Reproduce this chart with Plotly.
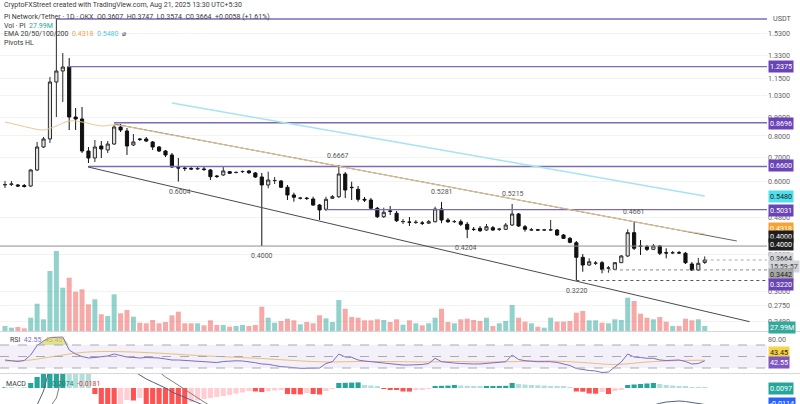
import math
import plotly.graph_objects as go

W, H = 800, 404
PR = 767  # right edge of plot area in px

idx = list(range(110))
opens = [.5876,.5894,.5876,.5857,.5838,.6458,.7464,.7850,1.1239,1.2044,
         1.235,.9015,.8903,.7278,.6964,.7511,.7324,.7606,.8465,.8255,
         .7558,.7850,.7850,.7703,.7464,.7278,.7097,.6560,.6540,.6519,
         .6499,.6499,.6458,.6218,.6258,.6390,.6357,.6390,.6418,.6337,
         .6179,.5876,.6037,.6025,.5791,.5517,.5403,.5410,.5379,.5180,
         .5042,.5403,.5458,.6297,.5791,.5718,.5369,.5346,.5074,.4812,
         .4988,.4917,.4663,.4654,.4640,.4625,.4620,.4663,.5051,.4713,
         .4663,.4663,.4587,.4445,.4473,.4425,.4490,.4445,.4445,.4567,
         .4895,.4518,.4425,.4430,.4425,.4425,.4425,.4288,.4199,.4085,
         .3726,.3550,.3588,.3602,.3480,.3455,.3602,.3757,.4352,.4001,
         .3983,.3918,.4001,.3836,.3830,.3836,.3822,.3572,.3440,.3607]
highs = [.6025,.6025,.5913,.5913,.6499,.7703,.7949,1.160,1.671,1.349,
         1.307,.9541,.9601,.7464,.7800,.7751,.7751,.8573,.8627,.8412,
         .8100,.7899,.7949,.7751,.7511,.7324,.7187,.6964,.6622,.6622,
         .6622,.6581,.6499,.6258,.6622,.6418,.6398,.6438,.6458,.6377,
         .6337,.6390,.6179,.6063,.5876,.5598,.5448,.5448,.5458,.5213,
         .5458,.5517,.6667,.6377,.5998,.5838,.5448,.5413,.5115,.5093,
         .5148,.4988,.4744,.4803,.4713,.4684,.4713,.5125,.5281,.4773,
         .4713,.4730,.4654,.4510,.4538,.4596,.4538,.4482,.4625,.5215,
         .4926,.4567,.4482,.4454,.4454,.4713,.4454,.4315,.4235,.4129,
         .3804,.3702,.3640,.3640,.3527,.3617,.3780,.4445,.4661,.4155,
         .4026,.4051,.4026,.3944,.3878,.3878,.3853,.3617,.3710,.3747]
lows = [.5765,.5838,.5802,.5783,.5802,.6418,.7417,.7654,.9015,.9909,
        .8307,.8307,.7187,.6748,.6791,.6964,.7187,.7558,.8203,.7097,
        .7511,.7751,.7703,.7324,.7232,.7008,.6540,.6004,.6418,.6458,
        .6458,.6418,.6063,.6140,.6218,.6297,.6317,.6337,.6297,.6140,
        .4000,.5754,.5913,.5765,.5346,.5290,.5362,.5346,.5148,.4713,
        .4988,.5379,.5413,.5413,.5346,.5290,.5279,.5051,.4773,.4773,
        .4865,.4654,.4596,.4538,.4596,.4567,.4596,.4640,.4620,.4625,
        .4625,.4538,.4204,.4398,.4370,.4398,.4398,.4398,.4425,.4538,
        .4510,.4379,.4398,.4398,.4398,.4398,.4261,.4182,.4069,.3220,
        .3403,.3527,.3550,.3369,.3382,.3440,.3595,.3733,.3902,.3780,
        .3878,.3902,.3780,.3702,.3804,.3804,.3572,.3418,.3418,.3574]
closes = [.5894,.5913,.5838,.5820,.6458,.7464,.7850,1.1239,1.2044,1.235,
          .9015,.8903,.7278,.6964,.7464,.7370,.7606,.8465,.8307,.7511,
          .7703,.7826,.7751,.7464,.7278,.7097,.6581,.6540,.6519,.6499,
          .6519,.6479,.6191,.6199,.6418,.6325,.6360,.6398,.6349,.6179,
          .5876,.6063,.6045,.5791,.5517,.5438,.5410,.5396,.5180,.5020,
          .5369,.5458,.6297,.5693,.5780,.5369,.5346,.5074,.4812,.4948,
          .4980,.4692,.4669,.4645,.4645,.4620,.4663,.5051,.4713,.4663,
          .4669,.4587,.4445,.4440,.4406,.4518,.4425,.4450,.4567,.4895,
          .4538,.4445,.4430,.4425,.4428,.4430,.4288,.4199,.4095,.3726,
          .3550,.3624,.3595,.3455,.3484,.3602,.3757,.4352,.3944,.3990,
          .3918,.4001,.3822,.3830,.3836,.3830,.3602,.3440,.3588,.3664]
volume_m = [28,18.5,22.4,15.1,74.5,152.9,65.5,336,448,242.5,
            298.5,220.1,233.5,149.5,177.5,93.5,84,205.5,99.1,117.6,
            80.1,46.5,43.1,61.6,43.1,50.4,87.9,108.1,43.1,43.1,
            43.1,31.9,59.9,33.6,33.6,24.1,28,33.6,28,33.6,
            136.1,74.5,46.5,56,68.9,59.9,37.5,50.4,43.1,87.9,
            71.1,50.4,173.6,124.9,78.4,74.5,59.9,59.9,65.5,61.6,
            50.4,65.5,35.3,59.9,43.1,31.9,43.1,74.5,124.9,50.4,
            43.1,65.5,68.9,61.6,56,74.5,28,43.1,56,145.6,
            74.5,52.1,43.1,24.1,18.5,74.5,52.1,52.1,56,102.5,
            112,59.9,59.9,46.5,43.1,65.5,61.6,186.5,168,96.9,
            74.5,65.5,78.4,52.1,28,28,68.9,59.9,65.5,27.99]
rsi = [43.9,43.0,41.3,43.0,52.6,69.1,77.0,83.0,83.9,83.9,
       61.3,54.3,50.0,47.4,48.3,49.1,50.9,54.3,51.7,49.1,
       48.3,47.4,48.3,48.3,47.4,45.7,43.9,43.9,43.0,42.2,
       41.3,40.4,39.2,39.5,41.3,42.2,42.5,42.2,41.3,39.2,
       37.0,36.4,34.4,32.3,31.7,30.0,29.5,29.5,29.5,30.0,
       37.8,41.0,54.3,49.1,48.6,43.9,42.2,41.0,38.7,37.8,
       37.0,35.2,35.2,35.2,35.2,36.1,37.8,46.9,41.0,39.2,
       38.7,37.8,37.0,37.0,37.0,37.8,38.2,39.6,41.0,52.6,
       44.8,42.7,41.3,41.0,41.0,41.0,39.6,37.0,34.4,29.1,
       27.0,25.7,24.8,22.2,23.0,32.3,40.4,54.3,49.1,48.3,
       46.9,46.9,43.9,43.0,43.4,43.9,41.3,37.0,37.8,42.55]
rsi_ma_x = [0,4,7,10,12,15,20,25,30,35,40,45,50,55,60,65,70,75,80,85,90,95,100,105,109]
rsi_ma = [42.2,43.9,49.1,54.3,57.0,58.7,57.8,55.2,51.7,49.1,46.5,43.0,40.4,41.3,
          41.3,40.4,41.3,40.4,41.3,42.2,39.6,36.1,40.4,43.0,43.45]
macd_hist = [0.3,0.3,0.2,0.2,5,11,20,35,48,55,
             50,42,32,18,-6,-16.5,-17,-17.5,-16.8,-12,
             -12.5,-10,-17,-17.5,-18,-18.5,-19,-19.5,-20,-14,
             -12.5,-11,-10,-9,-8,-7,-5.5,-4.5,-3,-3.5,
             -4,-3,-2.5,-2,-6,-6.2,-6.4,-5,-6,-6.5,
             -3,-1,5,5.2,5.4,5.6,3,2.5,2,-1,
             -1.2,-1.4,-3.5,-3.6,-2,-1.5,-1,2,2.2,2.4,
             3,2.5,2.2,2,1.8,1.9,2,2.1,2.2,5,
             4,3.5,3,2.7,2.4,2,1.7,1.3,1,-3.5,
             -3.7,-5.5,-5.7,-4,-6,-3,-2,3,3.5,4,
             4.5,5,4,3,2.5,2,1.2,0.8,0.5,0.4]
macd_line = [-22,-22.5,-23,-23,-21,-17,-3,20,45,65,
             72,72,68,60,50,42,36,30,26,22,
             17,13,9,6,3,0,-4,-7,-10,-13,
             -16,-19,-22,-25,-27,-28,-29,-30,-31,-33,
             -36,-37,-38,-40,-43,-46,-48,-49,-50,-52,
             -50,-47,-40,-38,-37,-36,-36,-37,-38,-39,
             -40,-40,-41,-42,-42,-42,-41,-36,-36,-36,
             -36,-37,-37,-37,-37,-36,-34,-33,-32,-31,
             -30,-30,-29,-28,-28,-28,-29,-30,-31,-33,
             -37,-40,-42,-43,-44,-41,-36,-31,-27,-23,
             -19,-17,-15.3,-14,-13.3,-13,-13.5,-14.3,-15.3,-16.5]
macd_signal = [-20,-20.5,-21,-21.5,-21.5,-21,-20,-19,-10,15,
               28,38,45,48,49,48,46,43,40,38,
               36,31,26,21,16,11,7,3,-1.5,-5.6,
               -9.8,-13.9,-18,-20,-22,-24,-26,-27,-28,-30,
               -31,-33,-34,-36,-38,-40,-42,-44,-46,-47,
               -47,-46,-45,-44,-43,-42,-41,-41,-41,-41,
               -41,-41,-41,-41,-41,-41,-40,-39,-39,-38,
               -38,-38,-38,-38,-37,-36,-35,-34,-33,-33,
               -32,-31,-31,-30,-30,-30,-30,-30,-31,-32,
               -34,-36,-38,-40,-40,-40,-38,-36,-33,-31,
               -28,-26,-24,-22,-20,-19,-18,-17.5,-17.2,-17]
ema50_x = [0,2,4,6,8,10,12,15,17,25,35,45,55,65,75,85,95,105,109]
ema50 = [.8736,.8573,.8412,.8307,.8519,.8791,.8736,.8519,.8573,.8104,.7523,.6973,
         .6462,.5987,.5551,.5150,.4770,.4423,.4318]
ema200_x = [26,40,60,80,100,109]
ema200 = [.9846,.8918,.7751,.6729,.5838,.5480]
price_ticks = [1.53,1.33,1.15,1.03,0.90,0.80,0.70,0.60,0.48,0.38,0.30,0.275,0.249]
price_tick_text = ["1.5300","1.3300","1.1500","1.0300","0.9000","0.8000","0.7000","0.6000",
                   "0.4800","0.3800","0.3000","0.2750","0.2490"]
levels = [1.671, 1.2375, 0.8696, 0.6600, 0.5031]
level_start = [8, 9.66, 17, 12.93, 50]
upper_channel_x = [16.98, 114.0]
upper_channel_y = [.8627, .4129]
lower_channel_x = [12.93, 116.0]
lower_channel_y = [.6581, .2484]

XMIN, XMAX = -0.78, 118.7

fig = go.Figure()

vcol = ['rgba(38,166,154,0.5)' if c >= o else 'rgba(239,83,80,0.5)' for o, c in zip(opens, closes)]
fig.add_trace(go.Bar(x=idx, y=volume_m, marker_color=vcol, marker_line_width=0,
                     width=0.78, yaxis='y', xaxis='x'))

for lv, st in zip(levels, level_start):
    fig.add_trace(go.Scatter(x=[st, XMAX], y=[lv, lv], mode='lines',
                             line=dict(color='#7c6bb8', width=1.3), yaxis='y2'))
fig.add_trace(go.Scatter(x=[XMIN, XMAX], y=[0.4, 0.4], mode='lines',
                         line=dict(color='#8f8f8f', width=1), yaxis='y2'))
fig.add_trace(go.Scatter(x=[93, XMAX], y=[0.3442, 0.3442], mode='lines',
                         line=dict(color='#8a8a8a', width=1, dash='dot'), yaxis='y2'))
fig.add_trace(go.Scatter(x=[89, XMAX], y=[0.3220, 0.3220], mode='lines',
                         line=dict(color='#555', width=1, dash='dot'), yaxis='y2'))
fig.add_trace(go.Scatter(x=[109, XMAX], y=[closes[-1], closes[-1]], mode='lines',
                         line=dict(color='#aaa', width=1, dash='dot'), yaxis='y2'))

fig.add_trace(go.Scatter(x=ema200_x, y=ema200, mode='lines',
                         line=dict(color='#a6e4f0', width=1.5, shape='spline'), yaxis='y2'))
fig.add_trace(go.Scatter(x=upper_channel_x, y=upper_channel_y, mode='lines',
                         line=dict(color='#6b6259', width=1), yaxis='y2'))
fig.add_trace(go.Scatter(x=lower_channel_x, y=lower_channel_y, mode='lines',
                         line=dict(color='#4a4a4a', width=1), yaxis='y2'))
fig.add_trace(go.Scatter(x=ema50_x, y=ema50, mode='lines',
                         line=dict(color='#e9c898', width=1, shape='spline'), yaxis='y2'))

fig.add_trace(go.Candlestick(x=idx, open=opens, high=highs, low=lows, close=closes,
                             increasing=dict(fillcolor='#e4e4e4', line=dict(color='#2b2b2b', width=1)),
                             decreasing=dict(fillcolor='#111111', line=dict(color='#111111', width=1)),
                             whiskerwidth=0, yaxis='y2', xaxis='x'))

ob = [max(v, 70) for v in rsi]
fig.add_trace(go.Scatter(x=idx, y=[70]*len(idx), mode='lines', line=dict(width=0), yaxis='y3'))
fig.add_trace(go.Scatter(x=idx, y=ob, mode='lines', line=dict(width=0), fill='tonexty',
                         fillcolor='rgba(190,205,70,0.55)', yaxis='y3'))
fig.add_trace(go.Scatter(x=rsi_ma_x, y=rsi_ma, mode='lines',
                         line=dict(color='#eac07c', width=1, shape='spline'), yaxis='y3'))
fig.add_trace(go.Scatter(x=idx, y=rsi, mode='lines',
                         line=dict(color='#7e6cc4', width=1), yaxis='y3'))

hcol = []
for i, v in enumerate(macd_hist):
    p = macd_hist[i-1] if i > 0 else 0
    if v >= 0:
        hcol.append('#26a69a' if v >= p else '#b2dfdb')
    else:
        hcol.append('#ff5252' if v <= p else '#ffcdd2')
fig.add_trace(go.Bar(x=idx, y=[v*0.001 for v in macd_hist], marker_color=hcol,
                     marker_line_width=0, width=0.8, yaxis='y4'))
fig.add_trace(go.Scatter(x=idx, y=[v*0.001 for v in macd_line], mode='lines',
                         line=dict(color='#56607a', width=1), yaxis='y4'))
fig.add_trace(go.Scatter(x=idx, y=[v*0.001 for v in macd_signal], mode='lines',
                         line=dict(color='#8a7d74', width=1), yaxis='y4'))

P_BOT = 331
R_TOP, R_BOT = 332, 374
def frac(py):
    return 1 - py / H

def lnp(py):
    return (100.54 - py) / 158.8

price_rng = [lnp(P_BOT) / math.log(10), lnp(0) / math.log(10)]
vol_per_px = 5.6
rsi_rng = [70 - (R_BOT - 345) * 40 / 23, 70 + (345 - R_TOP) * 40 / 23]

font = 'Roboto, Liberation Sans, Arial'
fig.update_layout(
    width=W, height=H, margin=dict(l=0, r=W - PR, t=0, b=0),
    paper_bgcolor='white', plot_bgcolor='white', showlegend=False,
    hovermode=False, barmode='overlay', font=dict(family=font, size=7, color='#555'),
    xaxis=dict(range=[XMIN, XMAX], showticklabels=False, showgrid=False, zeroline=False,
               rangeslider=dict(visible=False), anchor='y4'),
    yaxis=dict(domain=[frac(P_BOT), 1], range=[0, P_BOT * vol_per_px], visible=False),
    yaxis2=dict(domain=[frac(P_BOT), 1], overlaying='y', side='right', type='log',
                range=price_rng, tickvals=price_ticks, ticktext=price_tick_text,
                showgrid=True, gridcolor='#f3f3f3', zeroline=False, ticks='',
                tickfont=dict(size=7.2, color='#666'), anchor='x'),
    yaxis3=dict(domain=[frac(R_BOT), frac(R_TOP)], range=rsi_rng, side='right',
                tickvals=[80], ticktext=['80.00'], showgrid=False, zeroline=False,
                tickfont=dict(size=7.2, color='#666'), anchor='x'),
    yaxis4=dict(domain=[0, frac(R_BOT)], range=[-0.016, 0.014], side='right',
                showticklabels=False, showgrid=False, zeroline=False, anchor='x'),
)

shapes = []
shapes.append(dict(type='rect', xref='paper', x0=0, x1=1, yref='y3', y0=30, y1=70,
                   fillcolor='rgba(126,87,194,0.09)', line_width=0, layer='below'))
for lv in (70, 50, 30):
    shapes.append(dict(type='line', xref='paper', x0=0, x1=1, yref='y3', y0=lv, y1=lv,
                       line=dict(color='#a9a9b5', width=1, dash='dash')))
for py in (331.5, 373.5):
    shapes.append(dict(type='line', xref='paper', x0=0, x1=1.05, yref='paper',
                       y0=frac(py), y1=frac(py), line=dict(color='#d8d8d8', width=1)))
fig.update_layout(shapes=shapes)

ann = []
def A(px, py, text, xanchor='center', **kw):
    d = dict(x=px / PR, y=frac(py), xref='paper', yref='paper', text=text,
             showarrow=False, xanchor=xanchor, yanchor='middle')
    d.update(kw)
    ann.append(d)

hdr = dict(size=7, color='#3a3a3a')
A(2, 5, 'CryptoFXStreet created with TradingView.com, Aug 21, 2025 13:30 UTC+5:30', 'left', font=hdr)
A(2, 16.5, 'Pi Network/Tether · 1D · OKX  O0.3607  H0.3747  L0.3574  C0.3664  +0.0058 (+1.61%)', 'left', font=hdr)
A(2, 26, 'Vol · PI  <span style="color:#26a69a">27.99M</span>', 'left', font=hdr)
A(2, 34.5, 'EMA 20/50/100/200  <span style="color:#f4a24a">0.4318</span>  <span style="color:#4fc9dd">0.5480</span>  ⌀', 'left', font=hdr)
A(2, 43, 'Pivots HL', 'left', font=hdr)

pv = dict(size=7, color='#555')
for (px, py, t) in [(180, 192, '0.6004'), (262, 256, '0.4000'), (338, 156, '0.6667'),
                    (442, 192, '0.5281'), (466, 248, '0.4204'), (513, 194, '0.5215'),
                    (577, 291, '0.3220'), (634, 212, '0.4661')]:
    A(px, py, t, font=pv)

A(8, 339.5, 'RSI  <span style="color:#7e6cc4">42.55</span>  <span style="color:#d8b04a">43.45</span>', 'left',
  font=dict(size=7, color='#3a3a3a'))
A(4, 384, 'MACD', 'left', font=dict(size=7, color='#3a3a3a'), bgcolor='rgba(255,255,255,0.7)')
A(50, 384, '<span style="color:#1b7f77">0.0074</span>  <span style="color:#e53935">-0.0181</span>', 'left',
  font=dict(size=7))

def R(py, text, bg, fg='white'):
    ann.append(dict(x=1, y=frac(py), xref='paper', yref='paper', text=text, showarrow=False,
                    xanchor='left', yanchor='middle', xshift=1, bgcolor=bg, borderpad=1,
                    font=dict(size=7.2, color=fg)))

ann.append(dict(x=1, y=frac(18.5), xref='paper', yref='paper', text='USDT', showarrow=False,
                xanchor='left', yanchor='middle', xshift=4, font=dict(size=7.2, color='#555')))
R(66.7, '1.2375', '#6a43b8')
R(123.5, '0.8696', '#6a43b8')
R(166, '0.6600', '#6a43b8')
R(196, '0.5480', '#4fe0ee', '#1a1a1a')
R(210, '0.5031', '#6a43b8')
R(228.5, '0.4318', '#f7a231')
R(236.5, '0.4000', '#1e1e1e')
R(244.5, '0.4000', '#1e1e1e')
R(258, '0.3664', '#d3d5da', '#222')
R(266, '15:59:57', '#d3d5da', '#444')
R(274.5, '0.3442', '#a8a8a8', '#222')
R(284, '0.3220', '#6a43b8')
R(327, '27.99M', '#33a89b')
R(352, '43.45', '#f6d44a', '#222')
R(362, '42.55', '#7e57c2')
R(388, '0.0097', '#26a69a')
R(403.5, '-0.0114', '#2962ff')
fig.update_layout(annotations=ann)

fig.write_html('out.html', config=dict(displayModeBar=False))
